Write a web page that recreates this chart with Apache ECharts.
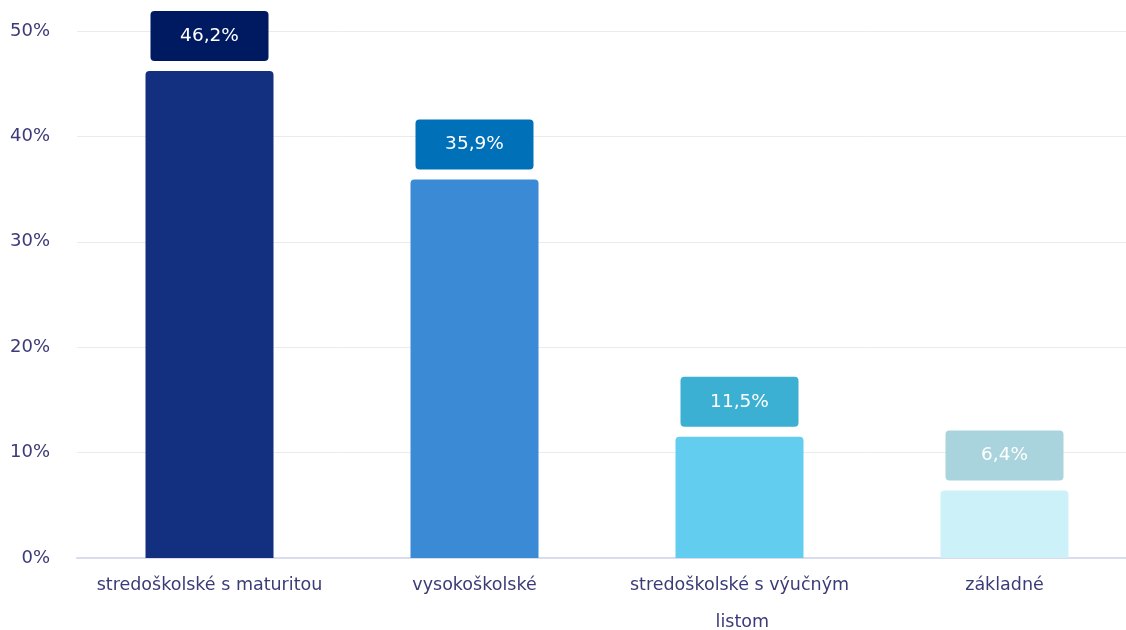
<!DOCTYPE html>
<html>
<head>
<meta charset="utf-8">
<script src="https://cdn.jsdelivr.net/npm/echarts@6/dist/echarts.min.js"></script>
<style>
  html, body { margin: 0; padding: 0; background: #fff; }
  #chart { width: 1126px; height: 630px; }
</style>
</head>
<body>
<div id="chart"></div>
<script>
const categories = ["stredoškolské s maturitou", "vysokoškolské", "stredoškolské s výučným listom", "základné"];
const values = [46.2, 35.9, 11.5, 6.4];
const barColors = ["#132f80", "#3a8ad6", "#62cdee", "#cdf1f9"];
const boxColors = ["#001a62", "#0070b8", "#3bb0d3", "#a9d3dd"];
const yTicks = [0, 10, 20, 30, 40, 50];

const textColor = "#3b3b78";

const chart = echarts.init(document.getElementById("chart"));

chart.setOption({
    animation: false,
    grid: { left: 77, top: 31, width: 1060, bottom: 72, containLabel: false, outerBoundsMode: "none" },
    xAxis: {
        type: "category",
        data: categories,
        axisTick: { show: false },
        axisLine: { lineStyle: { color: "#d9dcef", width: 2 } },
        axisLabel: {
            interval: 0,
            color: textColor,
            fontFamily: "DejaVu Sans",
            fontSize: 17.5,
            margin: 9,
            lineHeight: 37,
            width: 262,
            overflow: "break"
        }
    },
    yAxis: {
        type: "value",
        min: yTicks[0],
        max: yTicks[yTicks.length - 1],
        interval: 10,
        axisLabel: {
            color: textColor,
            fontFamily: "DejaVu Sans",
            fontSize: 18,
            margin: 27,
            formatter: (v) => v + "%"
        },
        splitLine: { lineStyle: { color: "#ebebeb", width: 1 } }
    },
    series: [
        {
            type: "bar",
            barWidth: 128,
            data: values.map((v, i) => ({
                value: v,
                itemStyle: { color: barColors[i], borderRadius: [4, 4, 0, 0] },
                label: { backgroundColor: boxColors[i] }
            })),
            label: {
                show: true,
                position: "top",
                distance: 10,
                width: 118,
                height: 50,
                lineHeight: 50,
                align: "center",
                color: "#ffffff",
                fontFamily: "DejaVu Sans",
                fontSize: 18.5,
                borderRadius: 4,
                formatter: (p) => p.value.toFixed(1).replace(".", ",") + "%"
            }
        }
    ]
});
</script>
</body>
</html>
